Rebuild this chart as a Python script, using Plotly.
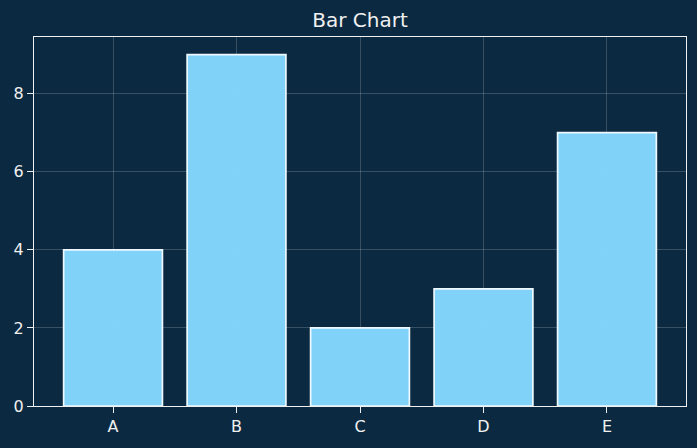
import plotly.graph_objects as go

categories = ["A", "B", "C", "D", "E"]
values = [4, 9, 2, 3, 7]

bg = "#0b2940"
fig = go.Figure(go.Bar(
    x=categories, y=values, width=0.8,
    marker=dict(color="rgba(132,216,255,0.97)", line=dict(color="#f0f8ff", width=1.7)),
))
axis_common = dict(
    showline=True, linecolor="#f0f0f0", linewidth=1.3, mirror=True,
    ticks="outside", ticklen=6, tickcolor="#f0f0f0", tickwidth=1.3,
    gridcolor="rgba(255,255,255,0.18)", gridwidth=1,
    tickfont=dict(family="DejaVu Sans", size=16, color="#f0f0f0"),
    zeroline=False,
)
fig.update_xaxes(range=[-0.64, 4.64], **axis_common)
fig.update_yaxes(range=[0, 9.45], dtick=2, **axis_common)
fig.update_layout(
    width=697, height=448,
    paper_bgcolor=bg, plot_bgcolor=bg,
    margin=dict(l=34, r=11, t=37, b=42),
    title=dict(text="Bar Chart", xref="paper", x=0.5, xanchor="center", y=1 - 20/448, yanchor="middle",
               font=dict(family="DejaVu Sans", size=20, color="#f0f0f0")),
    showlegend=False,
)
fig.write_html("out.html")
